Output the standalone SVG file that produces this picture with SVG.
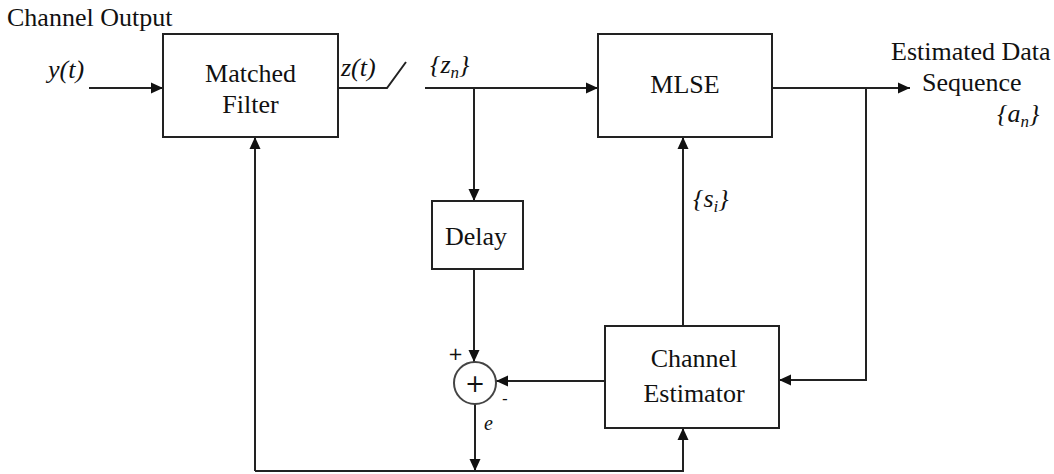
<svg xmlns="http://www.w3.org/2000/svg" width="1054" height="474" viewBox="0 0 1054 474">
<defs>
<marker id="arr" viewBox="0 0 12 12" refX="12" refY="6" markerWidth="12" markerHeight="12" markerUnits="userSpaceOnUse" orient="auto"><path d="M0,0.5 L12,6 L0,11.5 z" fill="#111"/></marker>
</defs>
<style>
.box{fill:#fff;stroke:#222;stroke-width:2}
.ln{fill:none;stroke:#222;stroke-width:2}
.t{font-family:"Liberation Serif","Times New Roman",serif;font-size:26px;fill:#111}
.c{text-anchor:middle}
.i{font-style:italic}
.sub{font-size:17px}
</style>
<rect width="1054" height="474" fill="#fff"/>
<g id="connectors">
<path class="ln" d="M89,88 H163" marker-end="url(#arr)"/>
<path class="ln" d="M338,88 H387 L406,62"/>
<path class="ln" d="M425,88 H598" marker-end="url(#arr)"/>
<path class="ln" d="M474,88 V201" marker-end="url(#arr)"/>
<path class="ln" d="M474,269 V362" marker-end="url(#arr)"/>
<path class="ln" d="M605,381 H496" marker-end="url(#arr)"/>
<path class="ln" d="M683,326 V137" marker-end="url(#arr)"/>
<path class="ln" d="M772,88 H910" marker-end="url(#arr)"/>
<path class="ln" d="M866,88 V380 H779" marker-end="url(#arr)"/>
<path class="ln" d="M475,404 V471" marker-end="url(#arr)"/>
<path class="ln" d="M255,471 V137" marker-end="url(#arr)"/>
<path class="ln" d="M255,471 H683 V428" marker-end="url(#arr)"/>
</g>
<g id="matched-filter">
<rect class="box" x="163" y="34" width="175" height="103"/>
<text class="t c" x="250.5" y="82">Matched</text>
<text class="t c" x="250.5" y="113">Filter</text>
</g>
<g id="mlse">
<rect class="box" x="598" y="34" width="174" height="103"/>
<text class="t c" x="685" y="93">MLSE</text>
</g>
<g id="delay">
<rect class="box" x="432" y="201" width="91" height="68"/>
<text class="t c" x="476" y="245">Delay</text>
</g>
<g id="channel-estimator">
<rect class="box" x="605" y="326" width="174" height="102"/>
<text class="t c" x="694" y="367">Channel</text>
<text class="t c" x="694" y="402">Estimator</text>
</g>
<g id="sum">
<circle cx="475" cy="383" r="21" fill="#fff" stroke="#444" stroke-width="2"/>
<text class="t c" x="475" y="392" style="font-family:'DejaVu Sans',sans-serif;font-size:24px">+</text>
<text class="t" x="448" y="360" style="font-family:'DejaVu Sans',sans-serif;font-size:18px">+</text>
<text class="t" x="502" y="404" style="font-family:'DejaVu Sans',sans-serif;font-size:16px">-</text>
</g>
<g id="labels">
<text class="t" x="7" y="26">Channel Output</text>
<text class="t i" x="48" y="78">y(t)</text>
<text class="t i" x="341" y="76">z(t)</text>
<text class="t i" x="430" y="73">{z<tspan class="sub" dy="5">n</tspan><tspan dy="-5">}</tspan></text>
<text class="t" x="891" y="60">Estimated Data</text>
<text class="t" x="922" y="91">Sequence</text>
<text class="t i" x="997" y="122">{a<tspan class="sub" dy="5">n</tspan><tspan dy="-5">}</tspan></text>
<text class="t i" x="693" y="207">{s<tspan class="sub" dy="5">i</tspan><tspan dy="-5">}</tspan></text>
<text class="t i" x="484" y="430" style="font-size:20px">e</text>
</g>
</svg>
